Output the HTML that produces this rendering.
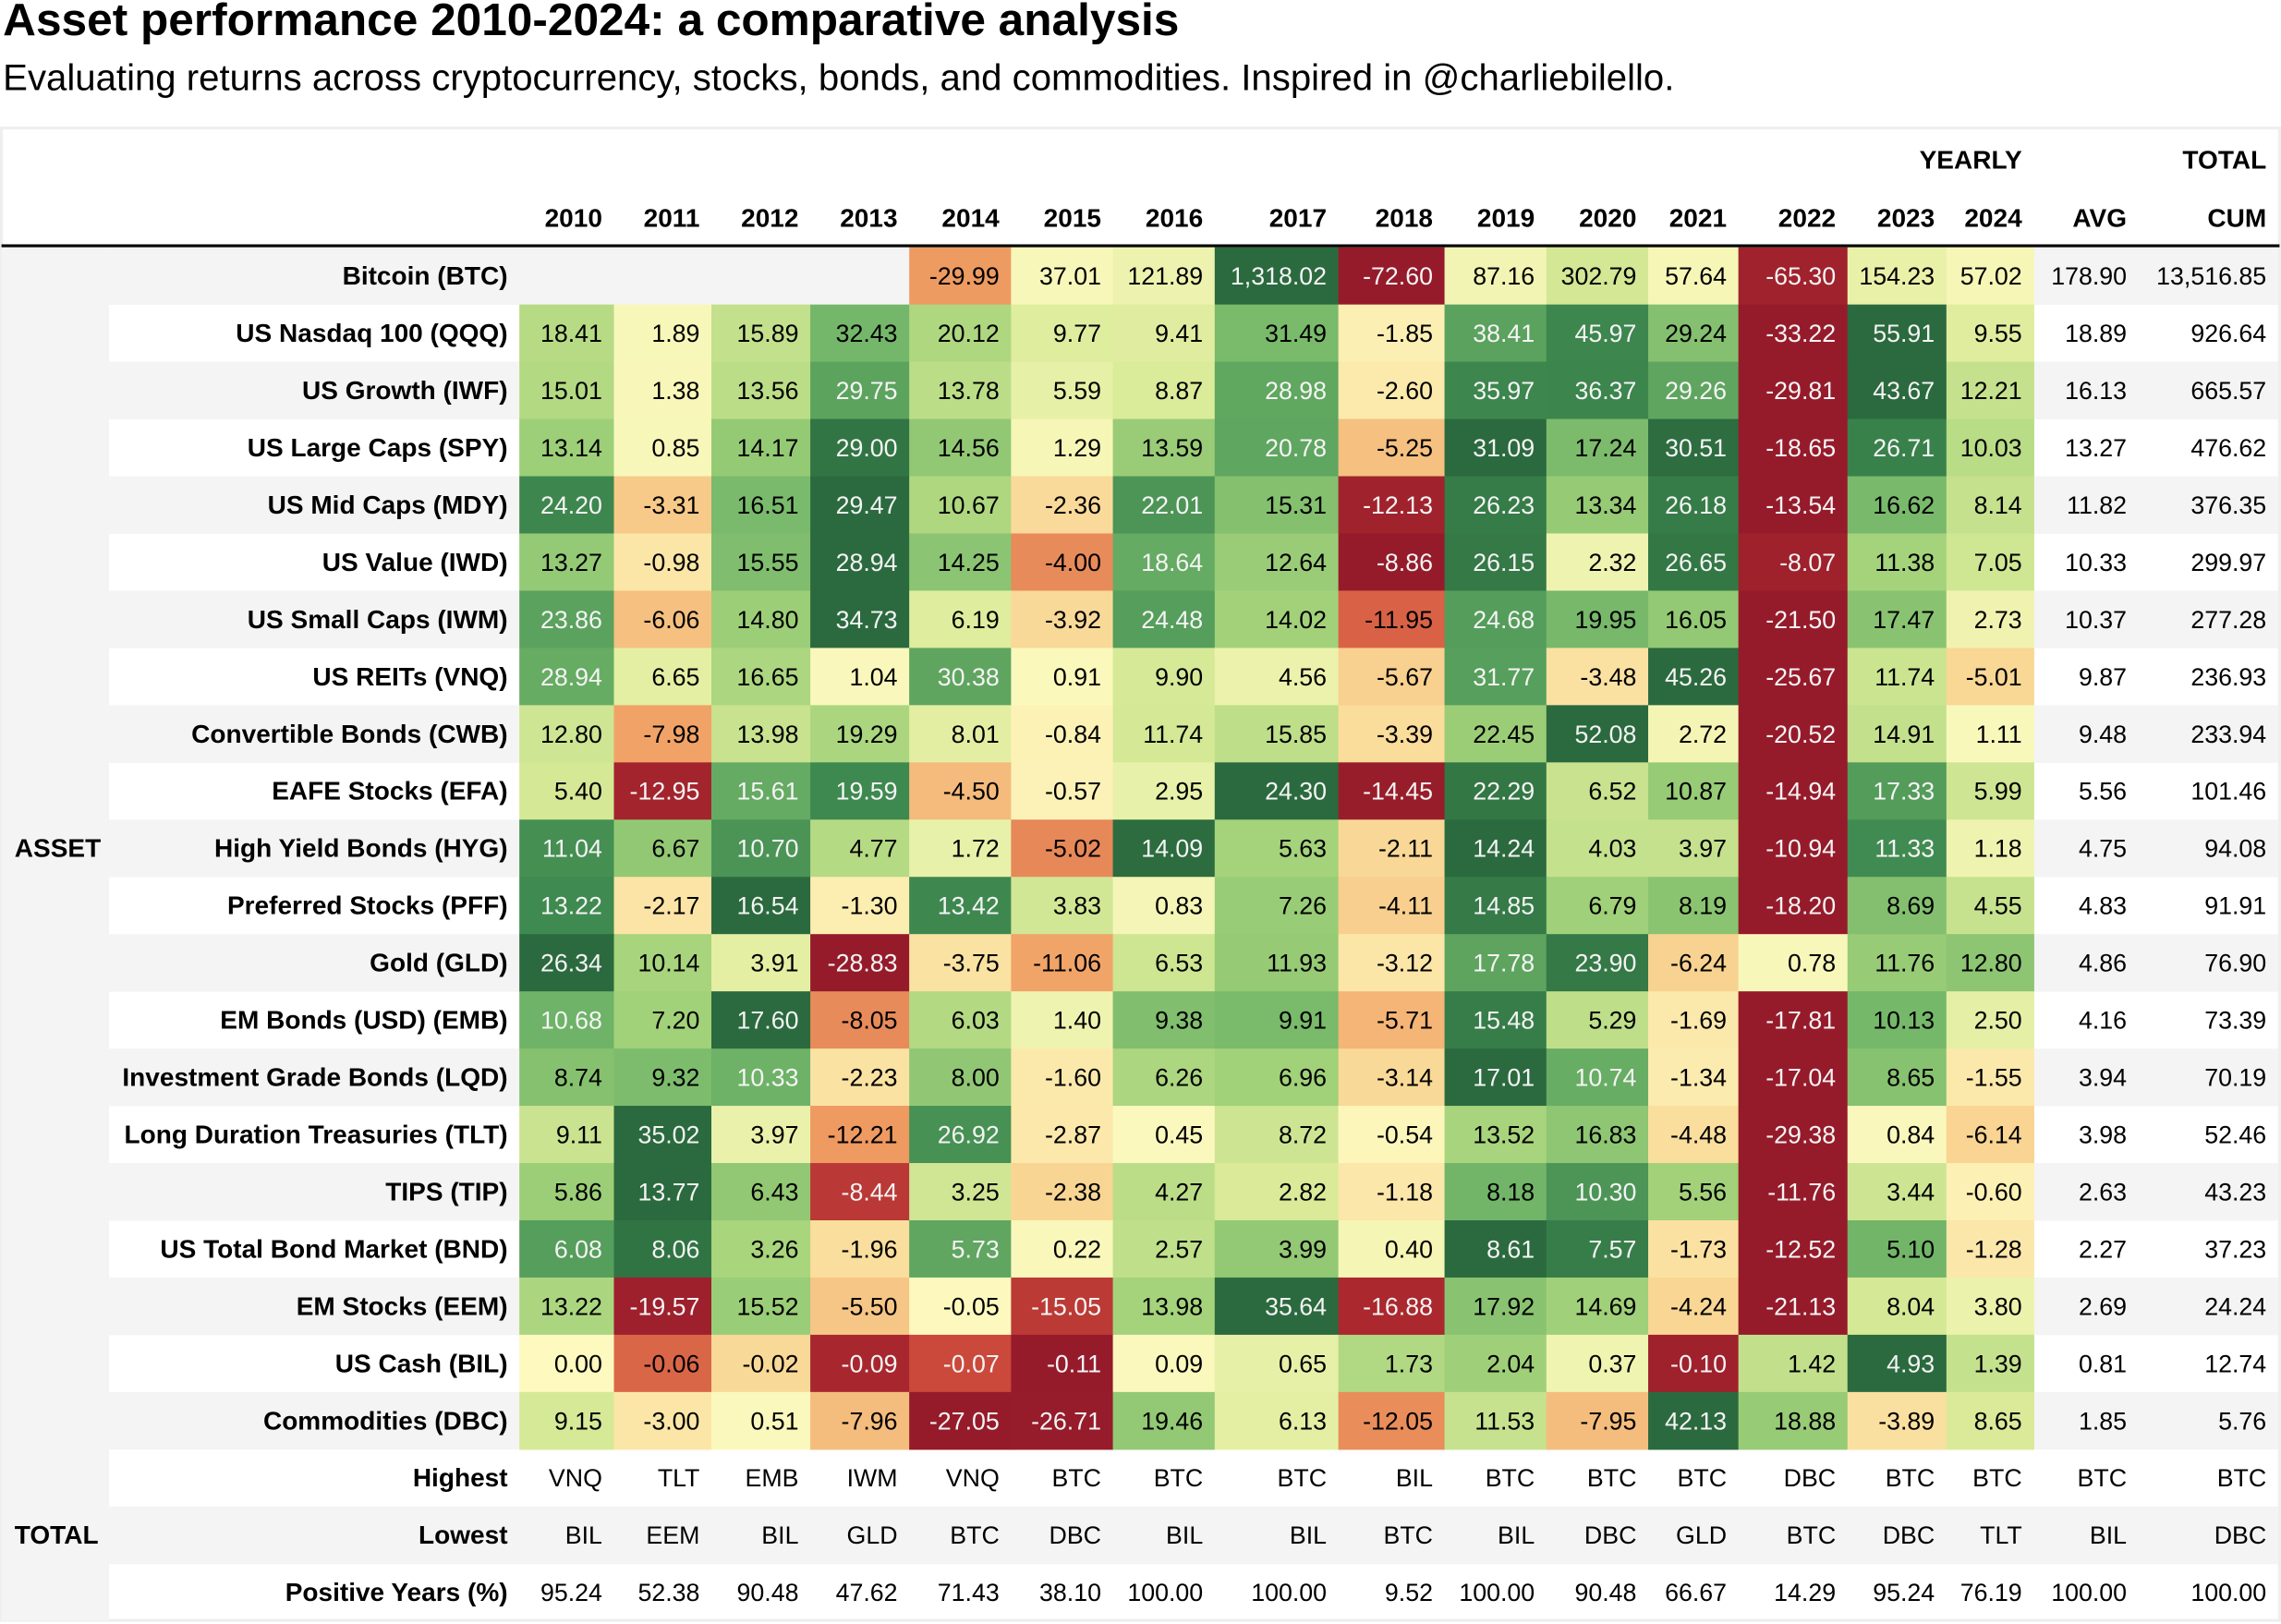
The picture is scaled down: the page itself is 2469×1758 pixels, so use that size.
<!DOCTYPE html>
<html><head><meta charset="utf-8">
<style>
html,body{margin:0;padding:0;background:#fff;}
svg{display:block;font-family:"Liberation Sans",Arial,sans-serif;}
</style></head>
<body>
<svg id="chart" width="2469" height="1758" viewBox="0 0 1568 1116.5" xmlns="http://www.w3.org/2000/svg">
<text x="2" y="24" font-size="31.5" font-weight="bold" fill="#000">Asset performance 2010-2024: a comparative analysis</text>
<text x="2" y="62" font-size="25.5" fill="#000">Evaluating returns across cryptocurrency, stocks, bonds, and commodities. Inspired in @charliebilello.</text>
<g id="tbl"></g>
</svg>
<script>
const years = ["2010","2011","2012","2013","2014","2015","2016","2017","2018","2019","2020","2021","2022","2023","2024"];
const assets = ["Bitcoin (BTC)","US Nasdaq 100 (QQQ)","US Growth (IWF)","US Large Caps (SPY)","US Mid Caps (MDY)","US Value (IWD)","US Small Caps (IWM)","US REITs (VNQ)","Convertible Bonds (CWB)","EAFE Stocks (EFA)","High Yield Bonds (HYG)","Preferred Stocks (PFF)","Gold (GLD)","EM Bonds (USD) (EMB)","Investment Grade Bonds (LQD)","Long Duration Treasuries (TLT)","TIPS (TIP)","US Total Bond Market (BND)","EM Stocks (EEM)","US Cash (BIL)","Commodities (DBC)"];
const returns = [
[null,null,null,null,-29.99,37.01,121.89,1318.02,-72.60,87.16,302.79,57.64,-65.30,154.23,57.02],
[18.41,1.89,15.89,32.43,20.12,9.77,9.41,31.49,-1.85,38.41,45.97,29.24,-33.22,55.91,9.55],
[15.01,1.38,13.56,29.75,13.78,5.59,8.87,28.98,-2.60,35.97,36.37,29.26,-29.81,43.67,12.21],
[13.14,0.85,14.17,29.00,14.56,1.29,13.59,20.78,-5.25,31.09,17.24,30.51,-18.65,26.71,10.03],
[24.20,-3.31,16.51,29.47,10.67,-2.36,22.01,15.31,-12.13,26.23,13.34,26.18,-13.54,16.62,8.14],
[13.27,-0.98,15.55,28.94,14.25,-4.00,18.64,12.64,-8.86,26.15,2.32,26.65,-8.07,11.38,7.05],
[23.86,-6.06,14.80,34.73,6.19,-3.92,24.48,14.02,-11.95,24.68,19.95,16.05,-21.50,17.47,2.73],
[28.94,6.65,16.65,1.04,30.38,0.91,9.90,4.56,-5.67,31.77,-3.48,45.26,-25.67,11.74,-5.01],
[12.80,-7.98,13.98,19.29,8.01,-0.84,11.74,15.85,-3.39,22.45,52.08,2.72,-20.52,14.91,1.11],
[5.40,-12.95,15.61,19.59,-4.50,-0.57,2.95,24.30,-14.45,22.29,6.52,10.87,-14.94,17.33,5.99],
[11.04,6.67,10.70,4.77,1.72,-5.02,14.09,5.63,-2.11,14.24,4.03,3.97,-10.94,11.33,1.18],
[13.22,-2.17,16.54,-1.30,13.42,3.83,0.83,7.26,-4.11,14.85,6.79,8.19,-18.20,8.69,4.55],
[26.34,10.14,3.91,-28.83,-3.75,-11.06,6.53,11.93,-3.12,17.78,23.90,-6.24,0.78,11.76,12.80],
[10.68,7.20,17.60,-8.05,6.03,1.40,9.38,9.91,-5.71,15.48,5.29,-1.69,-17.81,10.13,2.50],
[8.74,9.32,10.33,-2.23,8.00,-1.60,6.26,6.96,-3.14,17.01,10.74,-1.34,-17.04,8.65,-1.55],
[9.11,35.02,3.97,-12.21,26.92,-2.87,0.45,8.72,-0.54,13.52,16.83,-4.48,-29.38,0.84,-6.14],
[5.86,13.77,6.43,-8.44,3.25,-2.38,4.27,2.82,-1.18,8.18,10.30,5.56,-11.76,3.44,-0.60],
[6.08,8.06,3.26,-1.96,5.73,0.22,2.57,3.99,0.40,8.61,7.57,-1.73,-12.52,5.10,-1.28],
[13.22,-19.57,15.52,-5.50,-0.05,-15.05,13.98,35.64,-16.88,17.92,14.69,-4.24,-21.13,8.04,3.80],
[0.00,-0.06,-0.02,-0.09,-0.07,-0.11,0.09,0.65,1.73,2.04,0.37,-0.10,1.42,4.93,1.39],
[9.15,-3.00,0.51,-7.96,-27.05,-26.71,19.46,6.13,-12.05,11.53,-7.95,42.13,18.88,-3.89,8.65]];
const avgs = [178.90,18.89,16.13,13.27,11.82,10.33,10.37,9.87,9.48,5.56,4.75,4.83,4.86,4.16,3.94,3.98,2.63,2.27,2.69,0.81,1.85];
const cums = [13516.85,926.64,665.57,476.62,376.35,299.97,277.28,236.93,233.94,101.46,94.08,91.91,76.90,73.39,70.19,52.46,43.23,37.23,24.24,12.74,5.76];
const highest = ["VNQ","TLT","EMB","IWM","VNQ","BTC","BTC","BTC","BIL","BTC","BTC","BTC","DBC","BTC","BTC","BTC","BTC"];
const lowest = ["BIL","EEM","BIL","GLD","BTC","DBC","BIL","BIL","BTC","BIL","DBC","GLD","BTC","DBC","TLT","BIL","DBC"];
const positive = ["95.24","52.38","90.48","47.62","71.43","38.10","100.00","100.00","9.52","100.00","90.48","66.67","14.29","95.24","76.19","100.00","100.00"];

const NS="http://www.w3.org/2000/svg";
const g=document.getElementById('tbl');
const edges=[357,422,489,557,625,695,765,835,920,993,1063,1133,1195,1270,1338,1398,1470,1566];
const top0=170, rh=39.35;
const stops=[[0,[149,27,43]],[0.1,[170,40,46]],[0.2,[210,80,62]],[0.3,[240,160,100]],[0.4,[249,214,148]],[0.5,[253,249,191]],[0.6,[219,235,154]],[0.7,[163,210,122]],[0.8,[112,180,104]],[0.9,[63,138,80]],[1,[43,106,62]]];
function cmap(t){t=Math.max(0,Math.min(1,t));for(let i=1;i<stops.length;i++){if(t<=stops[i][0]){const a=stops[i-1],b=stops[i];const f=(t-a[0])/(b[0]-a[0]);const c=a[1].map((v,k)=>Math.round(v+(b[1][k]-v)*f));return `rgb(${c[0]},${c[1]},${c[2]})`;}}return 'rgb(43,106,62)';}
function el(tag,attrs,txt){const e=document.createElementNS(NS,tag);for(const k in attrs)e.setAttribute(k,attrs[k]);if(txt!==undefined)e.textContent=txt;g.appendChild(e);return e;}
function fmt(v){return v.toLocaleString('en-US',{minimumFractionDigits:2,maximumFractionDigits:2});}

const ob=el('rect',{x:1,y:88,width:1566,height:1026,fill:'#fff',stroke:'#eeeeee','stroke-width':2});


const lc=el('rect',{x:1,y:top0,width:74,height:rh*24,fill:'#f4f4f4'});



const totalRows=assets.length+3;
for(let r=0;r<totalRows;r++){
  const y=top0+r*rh;
  if(r%2===0){
    const bg=el('rect',{x:75,y:y,width:1491,height:rh+0.3,fill:'#f4f4f4'});
    
    
  }
}
assets.forEach((name,r)=>{
  const y=top0+r*rh;
  const vals=returns[r].filter(v=>v!==null);
  const mn=Math.min(...vals), mx=Math.max(...vals);
  const lt=el('text',{x:349,y:y+rh/2+6,'font-size':17.8,'font-weight':'bold','text-anchor':'end',fill:'#000'},name);
  
  
  returns[r].forEach((v,c)=>{
    if(v===null)return;
    const t=v>=0?0.5+0.5*(mx>0?v/mx:0):0.5-0.5*(mn<0?v/mn:0);
    const x0=edges[c],x1=edges[c+1];
    const cell=el('rect',{x:x0,y:y,width:x1-x0+0.4,height:rh+0.4,fill:cmap(t)});
    
    
    const tx=el('text',{x:x1-8,y:y+rh/2+6,'font-size':17,'text-anchor':'end',fill:(t>0.8||t<0.2)?'#f4f4f4':'#000'},fmt(v));
    
    
  });
  const a=el('text',{x:edges[16]-8,y:y+rh/2+6,'font-size':17,'text-anchor':'end',fill:'#000'},fmt(avgs[r]));
  
  
  const cm=el('text',{x:edges[17]-8,y:y+rh/2+6,'font-size':17,'text-anchor':'end',fill:'#000'},fmt(cums[r]));
  
  
});
const trows=[["Highest",highest],["Lowest",lowest],["Positive Years (%)",positive]];
trows.forEach((tr,i)=>{
  const y=top0+(assets.length+i)*rh;
  const lt=el('text',{x:349,y:y+rh/2+6,'font-size':17.8,'font-weight':'bold','text-anchor':'end',fill:'#000'},tr[0]);
  
  
  tr[1].forEach((s,c)=>{
    const tx=el('text',{x:edges[c+1]-8,y:y+rh/2+6,'font-size':17,'text-anchor':'end',fill:'#000'},s);
    
    
  });
});
const al=el('text',{x:10,y:top0+10*rh+rh/2+6,'font-size':17.8,'font-weight':'bold',fill:'#000'},'ASSET');


const tl=el('text',{x:10,y:top0+22*rh+rh/2+6,'font-size':17.8,'font-weight':'bold',fill:'#000'},'TOTAL');


years.forEach((yr,c)=>{
  const t=el('text',{x:edges[c+1]-8,y:156,'font-size':17.8,'font-weight':'bold','text-anchor':'end',fill:'#000'},yr);
  
  
});
const ah=el('text',{x:edges[16]-8,y:156,'font-size':17.8,'font-weight':'bold','text-anchor':'end',fill:'#000'},'AVG');


const ch=el('text',{x:edges[17]-8,y:156,'font-size':17.8,'font-weight':'bold','text-anchor':'end',fill:'#000'},'CUM');


const yh=el('text',{x:edges[15]-8,y:116,'font-size':17.8,'font-weight':'bold','text-anchor':'end',fill:'#000'},'YEARLY');


const th=el('text',{x:edges[17]-8,y:116,'font-size':17.8,'font-weight':'bold','text-anchor':'end',fill:'#000'},'TOTAL');


const hl=el('line',{x1:1,x2:1567,y1:169,y2:169,stroke:'#000','stroke-width':2});


</script>
</body></html>
